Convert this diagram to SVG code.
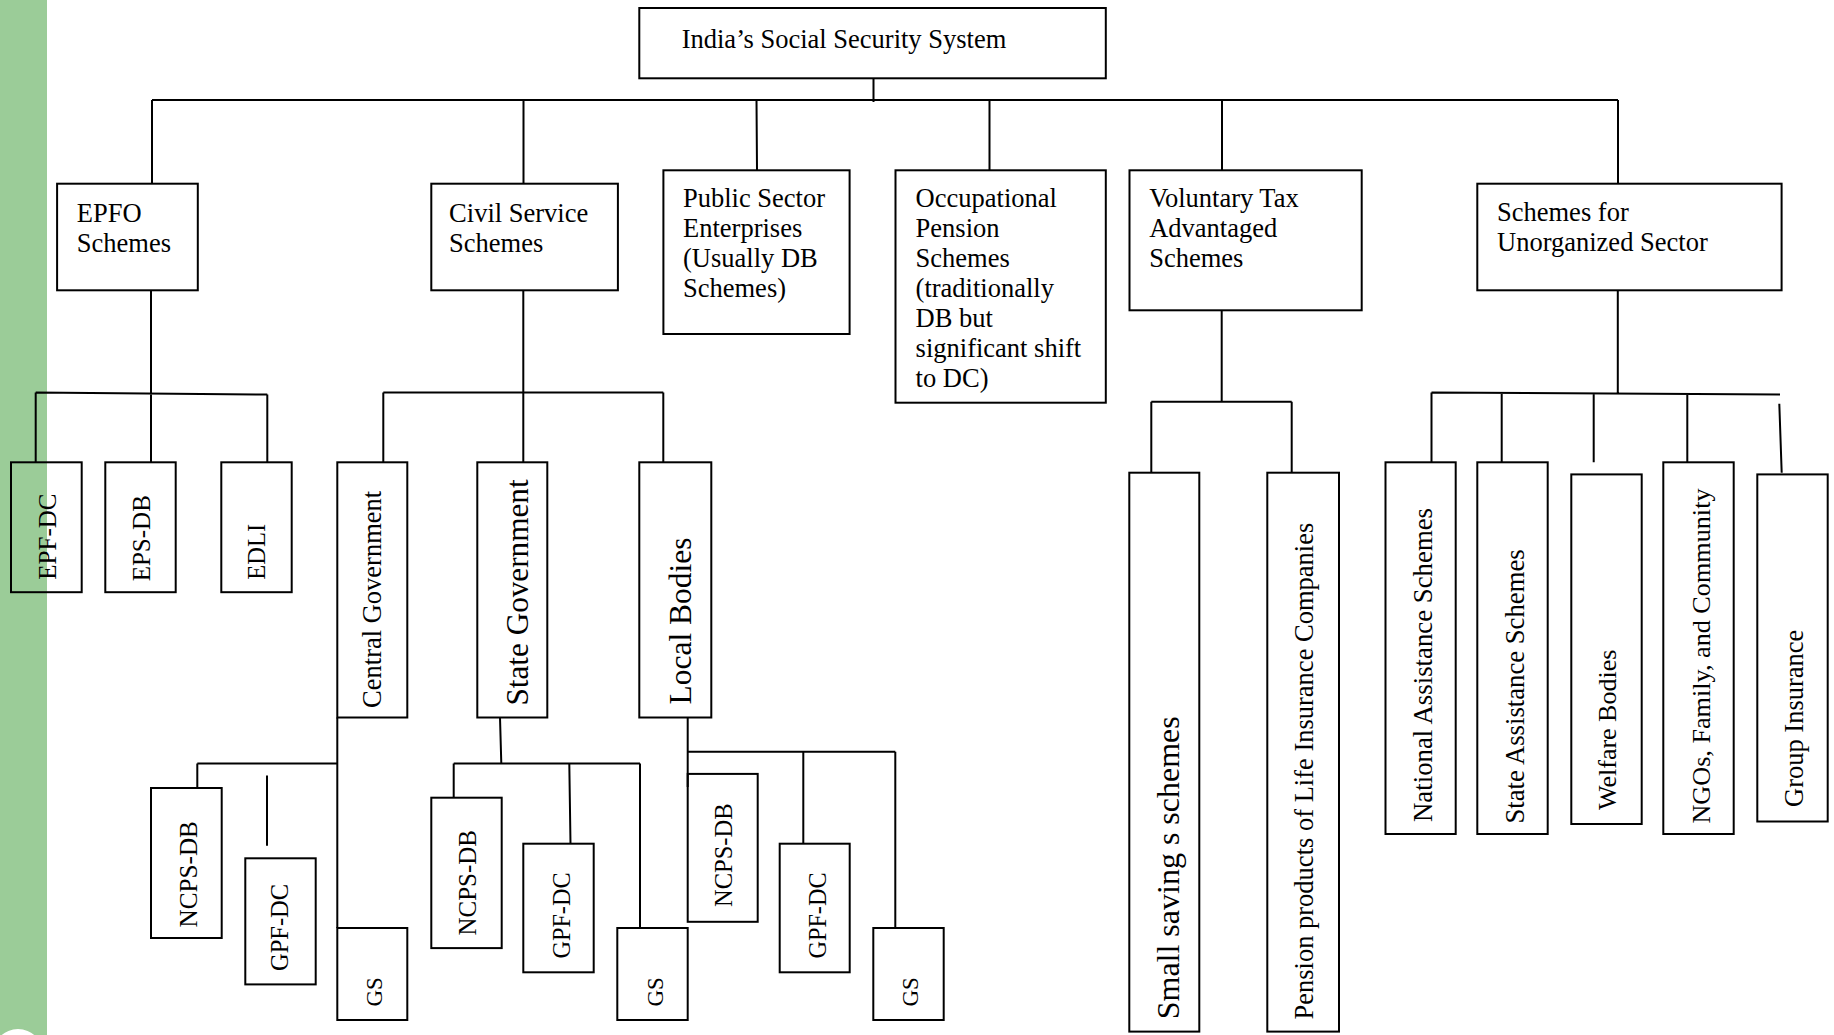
<svg xmlns="http://www.w3.org/2000/svg" width="1834" height="1035" viewBox="0 0 1834 1035">
<style>
.box{fill:none;stroke:#000;stroke-width:2}
.ln{fill:none;stroke:#000;stroke-width:2}
text{font-family:"Liberation Serif","Times New Roman",serif;fill:#000}
.h{font-size:26.5px}
</style>
<rect x="0" y="0" width="1834" height="1035" fill="#fff"/>
<rect x="0" y="0" width="47" height="1035" fill="#9bcc98"/>
<circle cx="18" cy="1054" r="25" fill="#fff"/>
<g id="connectors">
<path class="ln" d="M873.5 78 V102 M152 100 H1618 M152 100 V184 M523.5 100 V184 M756.5 100 L757 170 M989.5 100 V170 M1222 100 V170 M1618 100 V184"/>
<path class="ln" d="M151 290 V462 M35.7 392.5 L267.3 394.5 M35.7 392.5 V462 M267.3 394.5 V462"/>
<path class="ln" d="M523.3 290 V462 M383.3 392.5 H663.3 M383.3 392.5 V462 M663.3 392.5 V462"/>
<path class="ln" d="M337.3 717.5 V928 M197.3 763.5 H337.3 M197.3 763.5 V788 M267 775.6 V845.7"/>
<path class="ln" d="M500 717.5 L501.3 763.5 M453.7 763.5 H640 M453.7 763.5 V797.7 M569.3 763.5 L570.5 843.7 M640 763.5 V928"/>
<path class="ln" d="M687.7 717.5 V787 M687.7 751.8 H895.3 M803.3 751.8 V843.7 M895.3 751.8 V928"/>
<path class="ln" d="M1221.7 310.3 V401.7 M1151.3 401.7 H1291.7 M1151.3 401.7 V472.7 M1291.7 401.7 V472.7"/>
<path class="ln" d="M1617.8 290.3 V392.7 M1431.5 392.5 L1780 394.6 M1431.5 392.5 V462.3 M1501.7 393 V462.3 M1593.7 393.4 V462.3 M1687.3 394 V462.3 M1779.3 403.8 L1781.7 472.7"/>
</g>
<g id="root"><rect class="box" x="639.3" y="8" width="466.5" height="70.3"/><text class="h" x="681.7" y="47.7">India’s Social Security System</text></g>
<g id="epfo"><rect class="box" x="57.1" y="183.7" width="140.7" height="106.6"/><text class="h" x="76.8" y="221.7">EPFO</text><text class="h" x="76.8" y="251.5">Schemes</text></g>
<g id="civil"><rect class="box" x="431.3" y="183.7" width="186.6" height="106.6"/><text class="h" x="449.1" y="221.7">Civil Service</text><text class="h" x="449.1" y="251.5">Schemes</text></g>
<g id="pse"><rect class="box" x="663.4" y="170.3" width="186.2" height="163.7"/><text class="h" x="683" y="206.7">Public Sector</text><text class="h" x="683" y="236.7">Enterprises</text><text class="h" x="683" y="266.7">(Usually DB</text><text class="h" x="683" y="296.7">Schemes)</text></g>
<g id="occ"><rect class="box" x="895.5" y="170.3" width="210.3" height="232.4"/><text class="h" x="915.6" y="206.7">Occupational</text><text class="h" x="915.6" y="236.7">Pension</text><text class="h" x="915.6" y="266.7">Schemes</text><text class="h" x="915.6" y="296.7">(traditionally</text><text class="h" x="915.6" y="326.7">DB but</text><text class="h" x="915.6" y="356.7">significant shift</text><text class="h" x="915.6" y="386.7">to DC)</text></g>
<g id="vol"><rect class="box" x="1129.5" y="170.3" width="232.2" height="140"/><text class="h" x="1149.2" y="206.7">Voluntary Tax</text><text class="h" x="1149.2" y="236.7">Advantaged</text><text class="h" x="1149.2" y="266.7">Schemes</text></g>
<g id="unorg"><rect class="box" x="1477.3" y="183.7" width="304.3" height="106.6"/><text class="h" x="1497" y="221.3">Schemes for</text><text class="h" x="1497" y="251.3">Unorganized Sector</text></g>
<g id="epf-dc"><rect class="box" x="11" y="462.3" width="70.7" height="129.9"/><text font-size="25" transform="translate(55.8 579.7) rotate(-90)">EPF-DC</text></g>
<g id="eps-db"><rect class="box" x="105.3" y="462.3" width="70.4" height="129.9"/><text font-size="25" transform="translate(149.8 581.3) rotate(-90)">EPS-DB</text></g>
<g id="edli"><rect class="box" x="221.3" y="462.3" width="70.4" height="129.9"/><text font-size="24.5" transform="translate(265.2 579.7) rotate(-90)">EDLI</text></g>
<g id="central"><rect class="box" x="337.3" y="462.3" width="70" height="255.2"/><text font-size="26.5" transform="translate(380.8 707.9) rotate(-90)">Central Government</text></g>
<g id="state"><rect class="box" x="477.3" y="462.3" width="70" height="255.2"/><text font-size="31.2" transform="translate(527.8 705.5) rotate(-90)">State Government</text></g>
<g id="local"><rect class="box" x="639.3" y="462.3" width="72" height="255.2"/><text font-size="31.5" transform="translate(690.5 704.5) rotate(-90)">Local Bodies</text></g>
<g id="ncps-central"><rect class="box" x="151" y="788" width="70.7" height="150"/><text font-size="25.2" transform="translate(196.5 927.5) rotate(-90)">NCPS-DB</text></g>
<g id="gpf-central"><rect class="box" x="245.3" y="858.3" width="70.4" height="126.1"/><text font-size="24.5" transform="translate(287.9 971) rotate(-90)">GPF-DC</text></g>
<g id="gs-central"><rect class="box" x="337.3" y="928" width="70" height="92"/><text font-size="23" transform="translate(381.6 1006.6) rotate(-90)">GS</text></g>
<g id="ncps-state"><rect class="box" x="431.3" y="797.7" width="70.4" height="150.4"/><text font-size="25" transform="translate(475.8 935.6) rotate(-90)">NCPS-DB</text></g>
<g id="gpf-state"><rect class="box" x="523.3" y="843.7" width="70.4" height="128.6"/><text font-size="24.2" transform="translate(569.5 958.5) rotate(-90)">GPF-DC</text></g>
<g id="gs-state"><rect class="box" x="617.3" y="928" width="70.4" height="92"/><text font-size="23" transform="translate(662.6 1006.6) rotate(-90)">GS</text></g>
<g id="ncps-local"><rect class="box" x="687.7" y="773.9" width="70" height="147.9"/><text font-size="24.5" transform="translate(731.5 907) rotate(-90)">NCPS-DB</text></g>
<g id="gpf-local"><rect class="box" x="779.7" y="843.7" width="70" height="128.6"/><text font-size="24.2" transform="translate(825.5 958.5) rotate(-90)">GPF-DC</text></g>
<g id="gs-local"><rect class="box" x="873.3" y="928" width="70.4" height="92"/><text font-size="23" transform="translate(917.6 1006.6) rotate(-90)">GS</text></g>
<g id="small-saving"><rect class="box" x="1129.3" y="472.7" width="70" height="558.9"/><text font-size="32" transform="translate(1178.5 1019.3) rotate(-90)">Small saving s schemes</text></g>
<g id="pension-products"><rect class="box" x="1267.3" y="472.7" width="71.7" height="558.9"/><text font-size="26.5" transform="translate(1313.2 1019.5) rotate(-90)">Pension products of Life Insurance Companies</text></g>
<g id="national"><rect class="box" x="1385.5" y="462.3" width="70.2" height="371.7"/><text font-size="26.8" transform="translate(1431.5 822) rotate(-90)">National Assistance Schemes</text></g>
<g id="state-assist"><rect class="box" x="1477.3" y="462.3" width="70.4" height="371.7"/><text font-size="26.7" transform="translate(1524 823.6) rotate(-90)">State Assistance Schemes</text></g>
<g id="welfare"><rect class="box" x="1571.3" y="474.4" width="70.4" height="349.6"/><text font-size="26" transform="translate(1616.2 810) rotate(-90)">Welfare Bodies</text></g>
<g id="ngos"><rect class="box" x="1663.3" y="462.3" width="70.4" height="371.7"/><text font-size="26.2" transform="translate(1710.2 823.6) rotate(-90)">NGOs, Family, and Community</text></g>
<g id="group-insurance"><rect class="box" x="1757.3" y="474.4" width="70.4" height="347.1"/><text font-size="26.5" transform="translate(1802.5 807) rotate(-90)">Group Insurance</text></g>
</svg>
